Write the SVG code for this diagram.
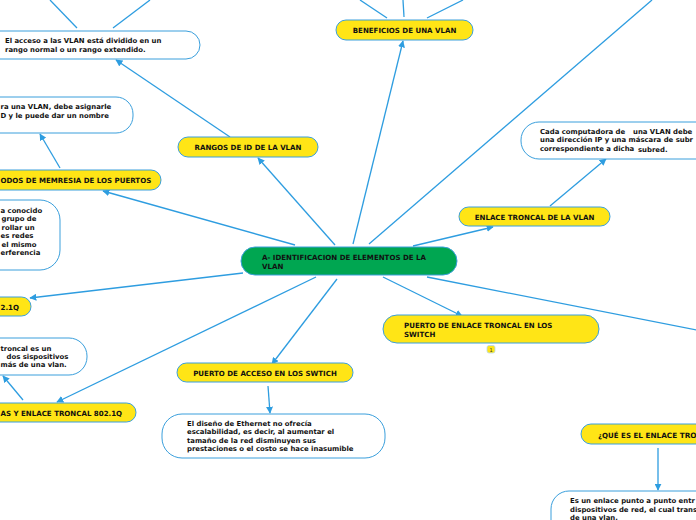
<svg xmlns="http://www.w3.org/2000/svg" width="696" height="520" viewBox="0 0 696 520">
<defs>
<marker id="ah" viewBox="0 0 10 10" refX="9" refY="5" markerWidth="7" markerHeight="7" markerUnits="userSpaceOnUse" orient="auto">
<path d="M0,0 L10,5 L0,10 z" fill="#2e9de0"/>
</marker>
<style>
.c{stroke:#2e9de0;stroke-width:1.3;fill:none}
.ca{stroke:#2e9de0;stroke-width:1.3;fill:none;marker-end:url(#ah)}
.y{fill:#ffe516;stroke:#3a9fdc;stroke-width:1}
.w{fill:#ffffff;stroke:#3a9fdc;stroke-width:1}
.g{fill:#00a651;stroke:#3a9fdc;stroke-width:1}
.t{font-family:"DejaVu Sans",Verdana,sans-serif;font-weight:bold;font-size:7.05px;fill:#111}
.b{font-family:"DejaVu Sans",Verdana,sans-serif;font-weight:bold;font-size:6.9px;fill:#111}
</style>
</defs>
<rect width="696" height="520" fill="#ffffff"/>
<g id="connectors">
<line class="ca" x1="353" y1="244" x2="403" y2="41"/>
<line class="c" x1="369" y1="244" x2="652" y2="0"/>
<line class="ca" x1="335" y1="245" x2="258" y2="158"/>
<line class="ca" x1="295" y1="245" x2="103" y2="191"/>
<line class="ca" x1="413" y1="246" x2="493" y2="227"/>
<line class="ca" x1="243" y1="273" x2="30" y2="298"/>
<line class="ca" x1="316" y1="277" x2="57" y2="402"/>
<line class="ca" x1="337" y1="279" x2="272" y2="364"/>
<line class="ca" x1="383" y1="277" x2="462" y2="316"/>
<line class="c" x1="427" y1="277" x2="697" y2="330"/>
<line class="c" x1="387" y1="18" x2="360" y2="0"/>
<line class="c" x1="404" y1="17" x2="403" y2="0"/>
<line class="c" x1="427" y1="18" x2="463" y2="0"/>
<line class="c" x1="77" y1="28" x2="50" y2="0"/>
<line class="c" x1="113" y1="28" x2="150" y2="0"/>
<line class="ca" x1="230" y1="137" x2="116" y2="60"/>
<line class="ca" x1="60" y1="168" x2="40" y2="134"/>
<line class="ca" x1="23" y1="400" x2="3" y2="376"/>
<line class="ca" x1="268" y1="386" x2="270" y2="413"/>
<line class="ca" x1="550" y1="206" x2="606" y2="159"/>
<line class="ca" x1="658" y1="448" x2="658" y2="490"/>
</g>
<g id="central">
<rect class="g" x="241" y="247" width="216" height="28" rx="14"/>
<text class="t" x="262" y="260">A- IDENTIFICACION DE ELEMENTOS DE LA</text>
<text class="t" x="262" y="268.5">VLAN</text>
</g>
<g id="beneficios">
<rect class="y" x="336" y="20" width="137" height="20" rx="10"/>
<text class="t" x="404.5" y="33" text-anchor="middle">BENEFICIOS DE UNA VLAN</text>
</g>
<g id="rangos">
<rect class="y" x="178" y="137" width="140" height="20" rx="10"/>
<text class="t" x="248" y="150" text-anchor="middle">RANGOS DE ID DE LA VLAN</text>
</g>
<g id="modos">
<rect class="y" x="-60" y="170" width="221" height="20" rx="10"/>
<text class="t" x="0.5" y="183">ODOS DE MEMRESIA DE LOS PUERTOS</text>
</g>
<g id="ieee">
<rect class="y" x="-60" y="297" width="91" height="19" rx="9.5"/>
<text class="t" x="0.5" y="310">2.1Q</text>
</g>
<g id="nativas">
<rect class="y" x="-100" y="403" width="236" height="19" rx="9.5"/>
<text class="t" x="0.5" y="415.5">AS Y ENLACE TRONCAL 802.1Q</text>
</g>
<g id="acceso">
<rect class="y" x="177" y="363" width="176" height="19" rx="9.5"/>
<text class="t" x="265" y="375.5" text-anchor="middle">PUERTO DE ACCESO EN LOS SWTICH</text>
</g>
<g id="enlace-switch">
<rect class="y" x="383" y="315" width="216" height="28" rx="14"/>
<text class="t" x="404" y="328">PUERTO DE ENLACE TRONCAL EN LOS</text>
<text class="t" x="404" y="336.5">SWITCH</text>
<rect x="487" y="345.5" width="8" height="7.5" rx="2" fill="#ffe516" stroke="#b8d8ee" stroke-width="0.8"/>
<text x="491" y="351.5" text-anchor="middle" font-family="DejaVu Sans,sans-serif" font-size="5" fill="#333">1</text>
</g>
<g id="enlace-vlan">
<rect class="y" x="459" y="207" width="151" height="19" rx="9.5"/>
<text class="t" x="534.5" y="219.5" text-anchor="middle">ENLACE TRONCAL DE LA VLAN</text>
</g>
<g id="que-es">
<rect class="y" x="581" y="424" width="160" height="20" rx="10"/>
<text class="t" x="598" y="437.5">¿QUÉ ES E<tspan font-size="7.3" dy="0.5">L ENLACE TRO</tspan></text>
</g>
<g id="acceso-vlan-texto">
<rect class="w" x="-30" y="31" width="230" height="28" rx="14"/>
<text class="b" x="5" y="43">El acceso a las VLAN está dividido en un</text>
<text class="b" x="5" y="51.5">rango normal o un rango extendido.</text>
</g>
<g id="crear-vlan-texto">
<rect class="w" x="-60" y="97" width="193" height="36" rx="17"/>
<text class="b" x="0.5" y="109">ra una VLAN, debe asignarle</text>
<text class="b" x="0.5" y="117.5">D y le puede dar un nombre</text>
</g>
<g id="vlan-def-texto">
<rect class="w" x="-80" y="200" width="140" height="70" rx="20"/>
<text class="b" x="0.5" y="212.5">a conocido</text>
<text class="b" x="1.5" y="221">grupo de</text>
<text class="b" x="1.5" y="229.5">rollar un</text>
<text class="b" x="0.5" y="238">es redes</text>
<text class="b" x="1.5" y="246.5">el mismo</text>
<text class="b" x="0.5" y="255">erferencia</text>
</g>
<g id="troncal-texto">
<rect class="w" x="-60" y="338" width="147" height="37" rx="18"/>
<text class="b" x="0.5" y="350.5">troncal es un</text>
<text class="b" x="6.5" y="358.5">dos sispositivos</text>
<text class="b" x="0.5" y="367">más de una vlan.</text>
</g>
<g id="ethernet-texto">
<rect class="w" x="162" y="414" width="223" height="44" rx="20"/>
<text class="b" x="187" y="425.5">El diseño de Ethernet no ofrecía</text>
<text class="b" x="187" y="434">escalabilidad, es decir, al aumentar el</text>
<text class="b" x="187" y="442.5">tamaño de la red disminuyen sus</text>
<text class="b" x="187" y="451">prestaciones o el costo se hace inasumible</text>
</g>
<g id="computadora-texto">
<rect class="w" x="521" y="122" width="200" height="37" rx="18"/>
<text class="b" x="540" y="133.5">Cada computadora de</text>
<text class="b" x="633" y="134">una VLAN debe</text>
<text class="b" x="540" y="142">una dirección IP y una máscara de subr</text>
<text class="b" x="540" y="150.5">correspondiente a dicha</text>
<text class="b" x="638" y="151.5">subred.</text>
</g>
<g id="punto-texto">
<rect class="w" x="551" y="491" width="180" height="50" rx="18"/>
<text class="b" x="570" y="503">Es un enlace punto a punto entr</text>
<text class="b" x="570" y="511.5">dispositivos de r<tspan dy="0.5">ed, el cual trans</tspan></text>
<text class="b" x="570" y="519.5">de una vlan.</text>
</g>
</svg>
